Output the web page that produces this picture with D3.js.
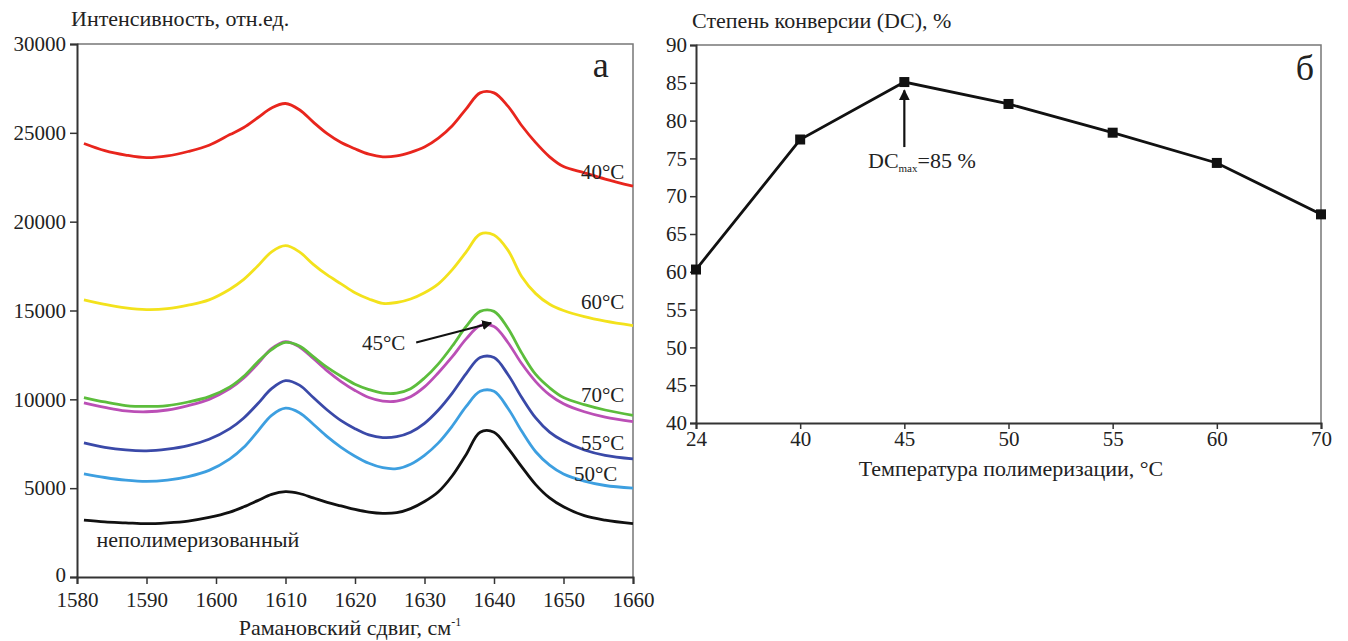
<!DOCTYPE html>
<html>
<head>
<meta charset="utf-8">
<script src="https://cdn.jsdelivr.net/npm/d3@7"></script>
<style>
  body { margin: 0; background: #fff; }
  svg text { font-family: 'Liberation Serif', 'DejaVu Serif', serif !important; fill: #222; }
</style>
</head>
<body>
<svg id="chart" width="1348" height="641"></svg>
<script>
// ---- data: left panel (Raman spectra) ----
const shift = [1581, 1584, 1587, 1590, 1593, 1596, 1599, 1602, 1604, 1606, 1608, 1610, 1612, 1614, 1616, 1618,
  1620, 1622, 1624, 1626, 1628, 1630, 1632, 1634, 1636, 1638, 1640, 1642, 1644, 1646, 1648, 1650, 1653, 1656, 1660]

const t40 = [24400, 24000, 23750, 23600, 23700, 23950, 24300, 24900, 25300, 25850, 26400, 26650, 26300, 25600, 24950, 24450,
  24100, 23800, 23650, 23700, 23900, 24200, 24700, 25400, 26350, 27250, 27250, 26500, 25400, 24450, 23650, 23100, 22750, 22400, 22000]
const t60 = [15600, 15350, 15150, 15050, 15100, 15300, 15600, 16200, 16750, 17500, 18300, 18650, 18300, 17600, 17000, 16500,
  16000, 15650, 15400, 15450, 15650, 16000, 16500, 17300, 18300, 19300, 19250, 18400, 16900, 15950, 15350, 15000, 14650, 14400, 14150]
const t45 = [10100, 9850, 9650, 9600, 9650, 9850, 10150, 10700, 11300, 12100, 12800, 13200, 13000, 12400, 11800, 11300,
  10850, 10550, 10350, 10350, 10600, 11200, 12000, 13000, 14100, 14950, 14950, 14000, 12600, 11400, 10650, 10100, 9700, 9400, 9100]
const t70 = [9800, 9550, 9350, 9300, 9400, 9650, 10000, 10600, 11200, 12000, 12850, 13250, 12950, 12300, 11600, 11000,
  10500, 10100, 9900, 9900, 10150, 10700, 11500, 12400, 13400, 14150, 14100, 13200, 12000, 11000, 10250, 9750, 9300, 9000, 8750]
const t55 = [7550, 7300, 7150, 7100, 7200, 7400, 7750, 8350, 8950, 9750, 10600, 11050, 10800, 10100, 9400, 8800,
  8350, 8000, 7850, 7900, 8150, 8650, 9400, 10350, 11450, 12350, 12350, 11400, 10100, 8950, 8150, 7650, 7150, 6850, 6650]
const t50 = [5800, 5600, 5450, 5380, 5450, 5650, 6000, 6650, 7300, 8200, 9100, 9500, 9250, 8600, 7900, 7300,
  6800, 6400, 6150, 6100, 6350, 6850, 7550, 8500, 9600, 10450, 10450, 9500, 8200, 7050, 6300, 5800, 5400, 5150, 5000]
const unpol = [3200, 3100, 3050, 3000, 3050, 3150, 3350, 3650, 3950, 4300, 4650, 4800, 4700, 4450, 4200, 4000,
  3800, 3650, 3580, 3620, 3850, 4250, 4800, 5700, 6900, 8150, 8150, 7250, 6200, 5200, 4450, 3950, 3450, 3200, 3000]

const spectra = [
  { name: 'unpol', values: unpol, color: '#111111' },
  { name: '50', values: t50, color: '#3d9fe0' },
  { name: '55', values: t55, color: '#3a49a8' },
  { name: '70', values: t70, color: '#bb4fb6' },
  { name: '45', values: t45, color: '#5cbd3c' },
  { name: '60', values: t60, color: '#f3e21c' },
  { name: '40', values: t40, color: '#e8251d' },
]

// ---- data: right panel (degree of conversion) ----
const temps = ['24', '40', '45', '50', '55', '60', '70']
const dc = [60.3, 77.5, 85.1, 82.2, 78.4, 74.4, 67.6]

const serif = "'Liberation Serif', 'DejaVu Serif', serif"
const svg = d3.select('#chart').attr('font-family', serif)

// ================= left panel =================
const x1 = d3.scaleLinear().domain([1580, 1660]).range([77, 633])
const y1 = d3.scaleLinear().domain([0, 30000]).range([577, 44])

const left = svg.append('g')

// frame (top / right in grey)
left.append('path')
  .attr('d', `M${x1(1580)},${y1(30000)}H${x1(1660)}V${y1(0)}`)
  .attr('fill', 'none').attr('stroke', '#777').attr('stroke-width', 1.5)

const yAxis1 = left.append('g')
  .attr('transform', `translate(${x1(1580)},0)`)
  .call(d3.axisLeft(y1).tickValues(d3.range(0, 30001, 5000)).tickFormat(d3.format('d')).tickSize(7).tickPadding(4))
const xAxis1 = left.append('g')
  .attr('transform', `translate(0,${y1(0)})`)
  .call(d3.axisBottom(x1).tickValues(d3.range(1580, 1661, 10)).tickFormat(d3.format('d')).tickSize(7).tickPadding(8))

;[yAxis1, xAxis1].forEach(a => {
  a.attr('font-family', serif)
  a.select('.domain').attr('stroke', '#333').attr('stroke-width', 2)
  a.selectAll('.tick line').attr('stroke', '#333').attr('stroke-width', 1.5)
  a.selectAll('.tick text').style('font-size', '21px').attr('fill', '#222')
})
// lift the "0" label a little so it clears "1580"
yAxis1.selectAll('.tick text').filter(d => d === 0).attr('dy', '0.2em')

const line1 = d3.line()
  .x((d, i) => x1(shift[i]))
  .y(d => y1(d))
  .curve(d3.curveCatmullRom.alpha(0.5))

left.selectAll('.spec')
  .data(spectra)
  .enter().append('path')
  .attr('class', 'spec')
  .attr('d', d => line1(d.values))
  .attr('fill', 'none')
  .attr('stroke', d => d.color)
  .attr('stroke-width', 2.8)

// curve labels
const curveLabels = [
  { t: '40°C', x: 1652.5, y: 22400 },
  { t: '60°C', x: 1652.5, y: 15100 },
  { t: '70°C', x: 1652.5, y: 9850 },
  { t: '55°C', x: 1652.5, y: 7150 },
  { t: '50°C', x: 1651.5, y: 5400 },
]
left.selectAll('.clab')
  .data(curveLabels)
  .enter().append('text')
  .attr('class', 'clab')
  .attr('x', d => x1(d.x))
  .attr('y', d => y1(d.y))
  .style('font-size', '21px')
  .text(d => d.t)

left.append('text')
  .attr('x', x1(1582.8)).attr('y', y1(1700))
  .style('font-size', '22px')
  .text('неполимеризованный')

// 45°C label with arrow
svg.append('defs').append('marker')
  .attr('id', 'arr').attr('viewBox', '0 0 10 10')
  .attr('refX', 9).attr('refY', 5)
  .attr('markerWidth', 5).attr('markerHeight', 5)
  .attr('orient', 'auto')
  .append('path').attr('d', 'M0,0L10,5L0,10Z').attr('fill', '#111')

left.append('text')
  .attr('x', x1(1621)).attr('y', y1(12800))
  .style('font-size', '21px')
  .text('45°C')
left.append('line')
  .attr('x1', x1(1628.8)).attr('y1', y1(13200))
  .attr('x2', x1(1639.6)).attr('y2', y1(14300))
  .attr('stroke', '#111').attr('stroke-width', 2)
  .attr('marker-end', 'url(#arr)')

left.append('text')
  .attr('x', x1(1656.5)).attr('y', 77)
  .attr('text-anchor', 'end')
  .style('font-size', '36px')
  .text('а')

left.append('text')
  .attr('x', 71).attr('y', 26)
  .style('font-size', '22px')
  .text('Интенсивность, отн.ед.')

const xt1 = left.append('text')
  .attr('x', 350).attr('y', 635)
  .attr('text-anchor', 'middle')
  .style('font-size', '22px')
xt1.append('tspan').text('Рамановский сдвиг, см')
xt1.append('tspan').attr('dy', -9).style('font-size', '12px').text('-1')

// ================= right panel =================
const x2 = d3.scalePoint().domain(temps).range([696, 1321])
const y2 = d3.scaleLinear().domain([40, 90]).range([423, 45])

const right = svg.append('g')

right.append('path')
  .attr('d', `M${x2('24')},${y2(90)}H${x2('70')}V${y2(40)}`)
  .attr('fill', 'none').attr('stroke', '#777').attr('stroke-width', 1.5)

const yAxis2 = right.append('g')
  .attr('transform', `translate(${x2('24')},0)`)
  .call(d3.axisLeft(y2).tickValues(d3.range(40, 91, 5)).tickSize(6).tickPadding(3))
const xAxis2 = right.append('g')
  .attr('transform', `translate(0,${y2(40)})`)
  .call(d3.axisBottom(x2).tickSize(6).tickPadding(2))

;[yAxis2, xAxis2].forEach(a => {
  a.attr('font-family', serif)
  a.select('.domain').attr('stroke', '#333').attr('stroke-width', 2)
  a.selectAll('.tick line').attr('stroke', '#333').attr('stroke-width', 1.5)
  a.selectAll('.tick text').style('font-size', '21px').attr('fill', '#222')
})

const line2 = d3.line()
  .x((d, i) => x2(temps[i]))
  .y(d => y2(d))

right.append('path')
  .attr('d', line2(dc))
  .attr('fill', 'none')
  .attr('stroke', '#111')
  .attr('stroke-width', 2.8)

right.selectAll('.pt')
  .data(dc)
  .enter().append('rect')
  .attr('class', 'pt')
  .attr('x', (d, i) => x2(temps[i]) - 5)
  .attr('y', d => y2(d) - 5)
  .attr('width', 10).attr('height', 10)
  .attr('fill', '#111')

// DCmax annotation
right.append('line')
  .attr('x1', x2('45')).attr('y1', y2(76.5))
  .attr('x2', x2('45')).attr('y2', y2(84))
  .attr('stroke', '#111').attr('stroke-width', 2.2)
  .attr('marker-end', 'url(#arr)')

const ann = right.append('text')
  .attr('x', 868).attr('y', 168)
  .style('font-size', '22px')
ann.append('tspan').text('DC')
ann.append('tspan').attr('dy', 4).style('font-size', '11px').text('max')
ann.append('tspan').attr('dy', -4).text('=85 %')

right.append('text')
  .attr('x', 1314).attr('y', 80)
  .attr('text-anchor', 'end')
  .style('font-size', '36px')
  .text('б')

right.append('text')
  .attr('x', 692).attr('y', 28)
  .style('font-size', '22px')
  .text('Степень конверсии (DC), %')

right.append('text')
  .attr('x', 1011).attr('y', 476)
  .attr('text-anchor', 'middle')
  .style('font-size', '22px')
  .text('Температура полимеризации, °С')
</script>
</body>
</html>
